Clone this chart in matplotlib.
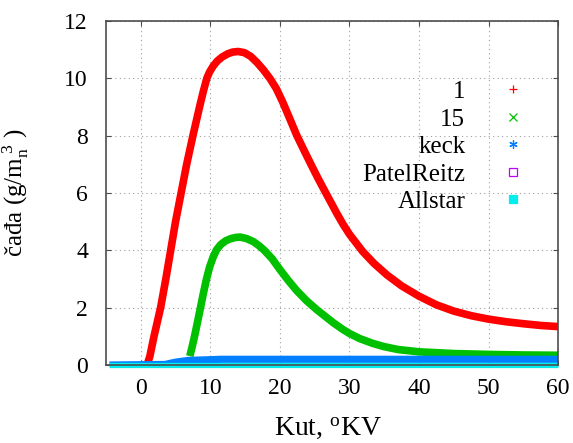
import numpy as np
import matplotlib.pyplot as plt
from matplotlib.lines import Line2D

plt.rcParams['font.family'] = ['Liberation Serif', 'DejaVu Serif']
plt.rcParams['mathtext.fontset'] = 'custom'
plt.rcParams['mathtext.rm'] = 'Liberation Serif'
plt.rcParams['mathtext.it'] = 'Liberation Serif:italic'

# values
x1 = [0.9, 1.3, 1.9, 2.85, 3.6, 4.3, 5.0, 5.8, 6.6, 7.5, 8.5, 9.0, 9.5, 9.9, 10.4,
      11.0, 11.7, 12.5, 13.2, 14.0, 14.9, 15.8, 16.7, 17.6, 18.6, 19.5, 20.4, 21.4,
      22.4, 23.5, 24.5, 25.5, 26.6, 27.4, 28.2, 29.1, 30.0, 31.9, 33.5, 35.4, 37.5,
      40, 42.5, 45, 47.5, 50, 52.5, 55, 57.5, 60]
y1 = [0.0, 0.3, 1.0, 2.0, 3.0, 4.0, 5.0, 6.0, 7.0, 8.0, 9.05, 9.55, 10.0, 10.22, 10.42,
      10.6, 10.74, 10.85, 10.91, 10.93, 10.89, 10.76, 10.55, 10.3, 9.98, 9.63, 9.17, 8.6,
      8.02, 7.47, 6.98, 6.5, 6.0, 5.64, 5.28, 4.9, 4.56, 3.96, 3.55, 3.14, 2.76,
      2.4, 2.1, 1.88, 1.72, 1.6, 1.51, 1.44, 1.38, 1.34]

x15 = [7.05, 7.4, 7.8, 8.2, 8.6, 9.0, 9.45, 9.9, 10.4, 10.9, 11.5, 12.2, 13.0, 13.7,
       14.3, 15.2, 16.2, 17.0, 17.8, 18.9, 20.0, 21.2, 22.4, 23.8, 25.3, 26.5, 27.7,
       29.0, 30.0, 31.5, 33.4, 35, 37, 40, 45, 50, 55, 60]
y15 = [0.31, 0.65, 1.08, 1.55, 2.02, 2.5, 3.0, 3.42, 3.76, 4.02, 4.2, 4.33, 4.41, 4.45,
       4.46, 4.41, 4.3, 4.16, 3.99, 3.7, 3.33, 2.95, 2.6, 2.25, 1.93, 1.7, 1.47,
       1.25, 1.1, 0.92, 0.75, 0.64, 0.54, 0.46, 0.40, 0.37, 0.35, 0.34]

xk = [-4.5, 3.5, 5.0, 6.8, 11.6, 60]
yk = [0.0, 0.02, 0.1, 0.16, 0.2, 0.2]

xp = [-4.5, 60]
yp = [0.0, 0.0]

xa = [-4.5, 60]
ya = [0.0, 0.0]

labels = ['1', '15', 'keck', 'PatelReitz', 'Allstar']
colors = ['#ff0000', '#00c000', '#0080ff', '#c000ff', '#00eeee']
markers = ['+', 'x', (6, 2, 0), 's', 's']

fig = plt.figure(figsize=(5.73, 4.43), dpi=100)
ax = fig.add_axes([0.185, 0.176, 0.789, 0.777])

ax.plot(x1, y1, color=colors[0], lw=5.5, solid_capstyle='butt', solid_joinstyle='round')
ax.plot(x15, y15, color=colors[1], lw=5.5, solid_capstyle='butt', solid_joinstyle='round')
ax.plot(xk, yk, color=colors[2], lw=5.2, solid_capstyle='butt')
ax.plot(xp, yp, color=colors[3], lw=1, solid_capstyle='butt')
ax.plot(xa, ya, color=colors[4], lw=3.8, solid_capstyle='butt', clip_on=False)

ax.set_xlim(-5, 60)
ax.set_ylim(0, 12)
ax.set_xticks(range(0, 61, 10))
ax.set_yticks(range(0, 13, 2))
ax.grid(True, color='#a0a0a0', lw=0.8, ls=(0, (1, 3)))
ax.tick_params(direction='in', length=3.5, width=0.8, top=True, right=True,
               labelsize=17, color='0.3')
ax.tick_params(axis='x', pad=9)
ax.tick_params(axis='y', pad=13)
for s in ax.spines.values():
    s.set_color('0.3')
    s.set_linewidth(1.2)

ax.set_xlabel('Kut, $^{\\rm o}$KV', fontsize=20)
ax.xaxis.set_label_coords(0.49, -0.148)
ax.set_ylabel('čađa (g/m$_{\\rm n}^{\\ 3}$ )', fontsize=18)
ax.yaxis.set_label_coords(-0.165, 0.5)

handles = []
for lab, c, m in zip(labels, colors, markers):
    fc = 'none' if lab == 'PatelReitz' else c
    handles.append(Line2D([], [], ls='none', marker=m, color=c, markerfacecolor=fc,
                          markersize=6, markeredgewidth=0.9, label=lab))
ax.legend(handles=handles, loc='upper right', bbox_to_anchor=(0.955, 0.826),
          frameon=False, markerfirst=False, fontsize=18, handlelength=2,
          handletextpad=0.9, labelspacing=0.2, borderpad=0, borderaxespad=0)

fig.savefig('out.png', dpi=100)
